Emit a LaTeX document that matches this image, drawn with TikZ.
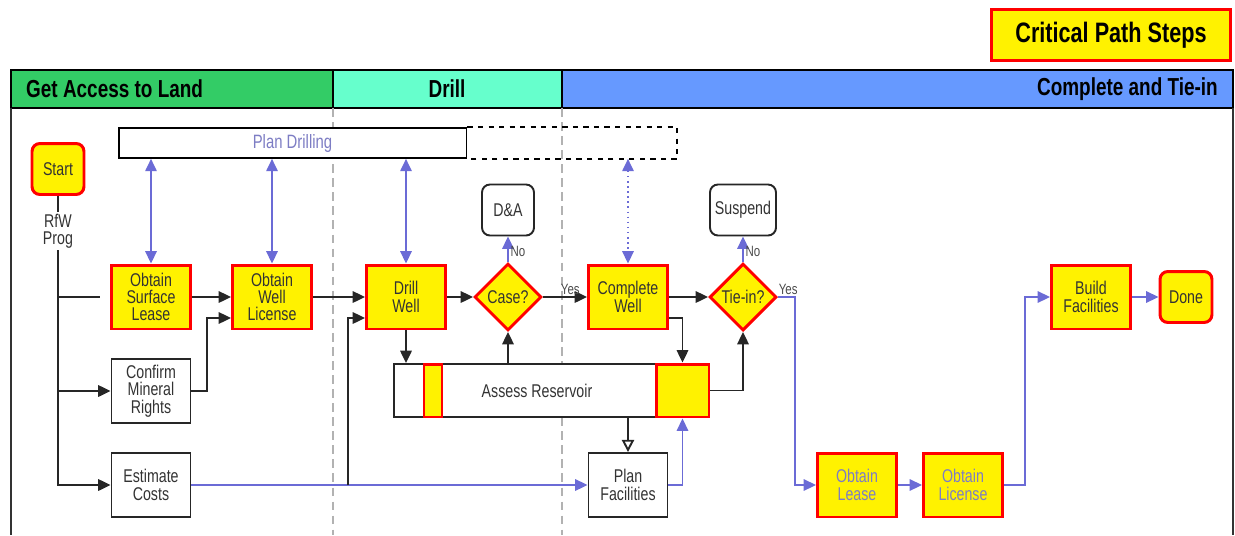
\documentclass[tikz,border=0pt]{standalone}
\usepackage{fontspec}
\setmainfont{Liberation Sans}[FakeStretch=0.77]
\usepackage{xcolor}
\usetikzlibrary{arrows.meta,positioning,shapes.geometric}

\definecolor{landgreen}{RGB}{51,204,102}
\definecolor{drillcyan}{RGB}{102,255,204}
\definecolor{tieblue}{RGB}{102,153,255}
\definecolor{flow}{RGB}{107,107,214}
\definecolor{softtxt}{RGB}{125,125,196}

\newcommand{\boxfont}{\fontsize{10.5}{9.9}\selectfont}
\newcommand{\headfont}{\fontsize{14}{15}\selectfont\bfseries}

\begin{document}
\begin{tikzpicture}[x=0.02cm, y=-0.02cm,
        crit/.style={draw=red, line width=1.7pt, fill=yellow, minimum width=1.58cm, minimum height=1.28cm, inner sep=1pt, align=center, font=\boxfont, text=black!80},
        plain/.style={crit, draw=black!85, line width=1.1pt, fill=white},
        term/.style={crit, rounded corners=4.5pt, minimum width=1.04cm, minimum height=1.02cm},
        endbox/.style={plain, rounded corners=4.5pt, minimum width=1.04cm, minimum height=1.02cm},
        decision/.style={crit, diamond, minimum width=1.34cm, minimum height=1.34cm, inner sep=0pt},
        head/.style={font=\headfont, text=black},
        tag/.style={font=\fontsize{8.5}{9}\selectfont, text=black!70, inner sep=1pt},
        arr/.style={line width=1.1pt, black!85, -{Triangle[length=7pt,width=6.5pt]}},
        barr/.style={line width=0.9pt, flow, -{Triangle[length=7pt,width=6.5pt]}},
        dbl/.style={line width=0.9pt, flow, {Triangle[length=7pt,width=6.5pt]}-{Triangle[length=7pt,width=6.5pt]}},
        lane/.style={gray!60, line width=0.8pt, dash pattern=on 5pt off 3pt}
    ]
    \useasboundingbox (0,0) rectangle (1235,535);
    % Legenda
    \node[crit, font=\fontsize{16}{17}\selectfont\bfseries, text=black, minimum width=4.78cm, minimum height=1.02cm] (legend) at (1111,35) {Critical Path Steps};
    % Faixas
    \draw[fill=landgreen, line width=1pt] (11,70) rectangle (333,108);
    \draw[fill=drillcyan, line width=1pt] (333,70) rectangle (562,108);
    \draw[fill=tieblue, line width=1pt] (562,70) rectangle (1233,108);
    \draw[line width=1pt, black!80] (11,108) -- (11,535) (1233,108) -- (1233,535);
    \draw[lane] (333,108) -- (333,535);
    \draw[lane] (562,108) -- (562,535);
    \node[head, anchor=west] (hLand) at (20,89) {Get Access to Land};
    \node[head] (hDrill) at (447,89) {Drill};
    \node[head, anchor=east] (hTie) at (1224,89) {Complete and Tie-in};
    % Planeamento
    \node[draw, line width=1.1pt, fill=white, minimum width=6.96cm, minimum height=0.5cm, font=\fontsize{11}{12}\selectfont, text=softtxt] (planDrill) at (292.5,143) {Plan Drilling};
    \draw[line width=1.1pt, dashed] (planDrill.north east) -- ++(210,0) |- (planDrill.south east);
    % Caixas
    \node[term] (start) at (58,169) {Start};
    \node[font=\boxfont, text=black!80, inner sep=1pt, align=center] (rfw) at (58,231) {RfW\\Prog};
    \node[crit] (osl) at (151,297) {Obtain\\Surface\\Lease};
    \node[crit] (owl) at (272,297) {Obtain\\Well\\License};
    \node[plain] (cmr) at (151,391) {Confirm\\Mineral\\Rights};
    \node[plain] (ec) at (151,485) {Estimate\\Costs};
    \node[crit] (dw) at (406,297) {Drill\\Well};
    \node[decision] (case) at (508,297) {Case?};
    \node[endbox] (da) at (508,210) {D\&A};
    \node[crit] (cw) at (628,297) {Complete\\Well};
    \node[decision] (tie) at (743,297) {Tie-in?};
    \node[endbox, minimum width=1.32cm] (susp) at (743,210) {Suspend};
    \node[plain, minimum width=6.3cm, minimum height=1.06cm] (assess) at (551.5,390.5) {};
    \node[crit, minimum width=0.36cm, minimum height=1.06cm] (strip) at (433,390.5) {};
    \node[crit, minimum width=1.06cm, minimum height=1.06cm] (assessSq) at (682.5,390.5) {};
    \node[font=\boxfont, text=black!80] (assessLbl) at (537,390.5) {Assess Reservoir};
    \node[plain] (pf) at (628,485) {Plan\\Facilities};
    \node[crit, text=softtxt] (ol) at (857,485) {Obtain\\Lease};
    \node[crit, text=softtxt] (olic) at (963,485) {Obtain\\License};
    \node[crit] (bf) at (1091,297) {Build\\Facilities};
    \node[term] (done) at (1186,297) {Done};
    % Ligações
    \draw[line width=1.1pt, black!85] (start.south) -- (rfw.north);
    \draw[arr] (rfw.south) |- (ec.west);
    \draw[arr] (rfw.south |- cmr.west) -- (cmr.west);
    \draw[line width=1.1pt, black!85] (rfw.south |- osl.west) -- ([xshift=-0.2cm]osl.west);
    \draw[arr] (osl) -- (owl);
    \draw[arr] (cmr.east) -- ++(16,0) |- ([yshift=-0.42cm]owl.west);
    \draw[arr] (owl) -- (dw);
    \draw[barr] (ec.east) -- (pf.west);
    \coordinate (tap) at (348,485);
    \draw[arr] (tap) |- ([yshift=-0.42cm]dw.west);
    \draw[arr] (dw) -- (case);
    \draw[barr] (case.north) -- (da.south) node[tag, pos=0.4, right] {No};
    \draw[arr] (case.east) -- (cw.west) node[tag, pos=0.62, above] {Yes};
    \draw[arr] (cw) -- (tie);
    \draw[barr] (tie.north) -- (susp.south) node[tag, pos=0.4, right] {No};
    \draw[barr] (tie.east) node[tag, above right, xshift=-1pt] {Yes} -- ++(17,0) |- (ol.west);
    \draw[barr] (ol) -- (olic);
    \draw[barr] (olic.east) -- ++(21,0) |- (bf.west);
    \draw[barr] (bf) -- (done);
    \draw[arr] (dw.south) -- (dw.south |- assess.north);
    \draw[arr] (case.south |- assess.north) -- (case.south);
    \draw[arr] ([yshift=-0.42cm]cw.east) -| (assessSq.north);
    \draw[arr] (assessSq.east) -| (tie.south);
    \draw[line width=1.1pt, black!85, -{Triangle[open, fill=white, length=7pt, width=7pt]}] (pf.north |- assess.south) -- (pf.north);
    \draw[barr] (pf.east) -| (assessSq.south);
    \draw[dbl] (osl.north |- planDrill.south) -- (osl.north);
    \draw[dbl] (owl.north |- planDrill.south) -- (owl.north);
    \draw[dbl] (dw.north |- planDrill.south) -- (dw.north);
    \draw[dbl, dotted] (cw.north |- planDrill.south) -- (cw.north);
\end{tikzpicture}
\end{document}
